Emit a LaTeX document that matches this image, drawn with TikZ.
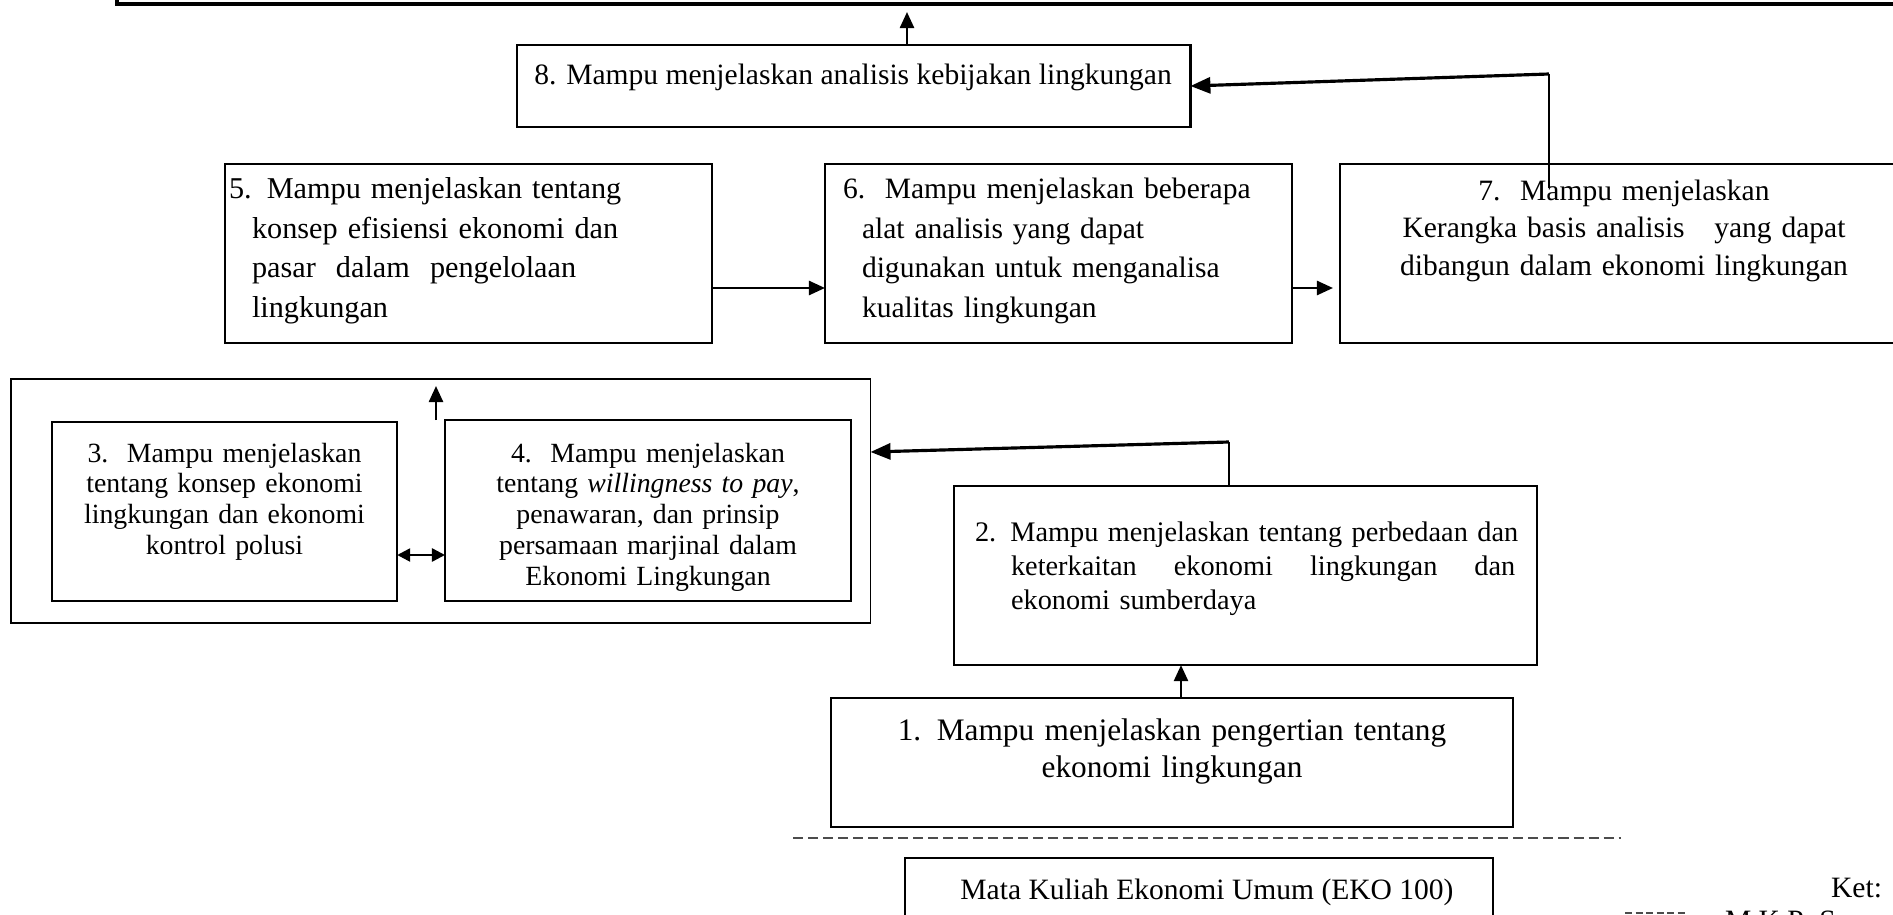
\documentclass[tikz,border=0pt]{standalone}
\usepackage{fontspec}
\setmainfont{Liberation Serif}
\usetikzlibrary{arrows.meta,calc}
\begin{document}
\begin{tikzpicture}[x=0.01cm,y=-0.01cm,
  box/.style={draw, line width=0.55pt, inner sep=0pt, outer sep=0pt},
  txt/.style={inner sep=0pt, outer sep=0pt, font=\fontsize{8.4pt}{11.2pt}\selectfont},
  arr/.style={-{Triangle[length=0.16cm,width=0.14cm]}, line width=0.7pt},
  darr/.style={{Triangle[length=0.13cm,width=0.13cm]}-{Triangle[length=0.13cm,width=0.13cm]}, line width=0.7pt},
  slope/.style={-{Triangle[length=0.2cm,width=0.16cm]}, line width=0.9pt},
  conn/.style={line width=0.5pt},
  dline/.style={line width=0.5pt, gray!60!black, dash pattern=on 0.1cm off 0.05cm}
]
\useasboundingbox (0,0) rectangle (1893,915);

% boxes
\node[box, line width=1pt, minimum width=19cm, minimum height=0.6cm, anchor=south west] (top) at (117,4) {};
\node[box, line width=0.8pt, minimum width=6.73cm, minimum height=0.82cm, anchor=north west] (b8) at (517,45) {};
\node[box, minimum width=4.87cm, minimum height=1.79cm, anchor=north west] (b5) at (225,164) {};
\node[box, minimum width=4.67cm, minimum height=1.79cm, anchor=north west] (b6) at (825,164) {};
\node[box, minimum width=6.0cm, minimum height=1.79cm, anchor=north west] (b7) at (1340,164) {};
\node[box, minimum width=8.59cm, minimum height=2.44cm, anchor=north west] (grp) at (11,379) {};
\node[box, minimum width=3.45cm, minimum height=1.79cm, anchor=north west] (b3) at (52,422) {};
\node[box, minimum width=4.06cm, minimum height=1.81cm, anchor=north west] (b4) at (445,420) {};
\node[box, minimum width=5.83cm, minimum height=1.79cm, anchor=north west] (b2) at (954,486) {};
\node[box, minimum width=6.82cm, minimum height=1.29cm, anchor=north west] (b1) at (831,698) {};
\node[box, minimum width=5.88cm, minimum height=1.0cm, anchor=north west] (bm) at (905,858) {};

% texts
\node[txt, anchor=base] (t8) at (853,84) {8. Mampu menjelaskan analisis kebijakan lingkungan};
\node[txt, anchor=base west, text width=4.7cm, align=left, font=\fontsize{8.6pt}{11.2pt}\selectfont] (t5) at (229,199)
  {5. Mampu menjelaskan tentang\\
   \hspace*{0.23cm}konsep efisiensi ekonomi dan\\
   \hspace*{0.23cm}pasar\ \ dalam\ \ pengelolaan\\
   \hspace*{0.23cm}lingkungan};
\node[txt, anchor=base west, text width=4.4cm, align=left] (t6) at (843,199)
  {6.\ \ Mampu menjelaskan beberapa\\
   \hspace*{0.19cm}alat analisis yang dapat\\
   \hspace*{0.19cm}digunakan untuk menganalisa\\
   \hspace*{0.19cm}kualitas lingkungan};
\node[txt, anchor=base, text width=5.5cm, align=center, font=\fontsize{8.4pt}{10.8pt}\selectfont] (t7) at (1624,200)
  {7.\ \ Mampu menjelaskan\\
   Kerangka basis analisis\ \ \ yang dapat\\
   dibangun dalam ekonomi lingkungan};
\node[txt, anchor=base, text width=3.4cm, align=center, font=\fontsize{7.9pt}{8.8pt}\selectfont] (t3) at (224.5,462)
  {3.\ \ Mampu menjelaskan\\
   tentang konsep ekonomi\\
   lingkungan dan ekonomi\\
   kontrol polusi};
\node[txt, anchor=base, text width=4.0cm, align=center, font=\fontsize{7.9pt}{8.8pt}\selectfont] (t4) at (648,462)
  {4.\ \ Mampu menjelaskan\\
   tentang \textit{willingness to pay},\\
   penawaran, dan prinsip\\
   persamaan marjinal dalam\\
   Ekonomi Lingkungan};
\node[txt, anchor=base west, text width=5.7cm, align=left, font=\fontsize{8.05pt}{9.7pt}\selectfont] (t2) at (975,541)
  {2. Mampu menjelaskan tentang perbedaan dan\\
   \hspace*{0.36cm}\hbox to 5.04cm{keterkaitan\hfill ekonomi\hfill lingkungan\hfill dan}\\
   \hspace*{0.36cm}ekonomi sumberdaya};
\node[txt, anchor=base, text width=6.7cm, align=center, font=\fontsize{8.9pt}{10.8pt}\selectfont] (t1) at (1172,740)
  {1. Mampu menjelaskan pengertian tentang\\
   ekonomi lingkungan};
\node[txt, anchor=base] (tm) at (1207,899) {Mata Kuliah Ekonomi Umum (EKO 100)};
\node[txt, anchor=base east] (ket) at (1882,897) {Ket:};
\node[txt, anchor=base west] (mkp) at (1725,930) {M.K.Pr.S};

% helper coordinates
\coordinate (x907) at (907,0);
\coordinate (c78) at (1549,74);
\coordinate (c7) at (1549,188);
\coordinate (y288) at (0,288);
\coordinate (x436) at (436,0);
\coordinate (y555) at (0,555);
\coordinate (c2) at (1229,442);
\coordinate (y452) at (0,452);
\coordinate (x1181) at (1181,0);
\coordinate (d1) at (793,838);
\coordinate (d2) at (1621,838);
\coordinate (l1) at (1625,913);
\coordinate (l2) at (1685,913);

% connectors
\draw[arr, shorten >=0.08cm] (b8.north -| x907) -- (top.south -| x907);
\draw[conn] (c7) -- (c78);
\draw[slope] (c78) -- (b8.east);
\draw[arr] (b5.east |- y288) -- (b6.west |- y288);
\draw[arr, shorten >=0.07cm] (b6.east |- y288) -- (b7.west |- y288);
\draw[arr, shorten >=0.07cm] (b4.north west -| x436) -- (grp.north -| x436);
\draw[darr] (b3.east |- y555) -- (b4.west |- y555);
\draw[conn] (b2.north -| c2) -- (c2);
\draw[slope] (c2) -- (grp.east |- y452);
\draw[arr] (b1.north -| x1181) -- (b2.south -| x1181);
\draw[dline] (d1) -- (d2);
\draw[line width=0.6pt, gray!60!black, dash pattern=on 0.07cm off 0.035cm] (l1) -- (l2);
\end{tikzpicture}
\end{document}
